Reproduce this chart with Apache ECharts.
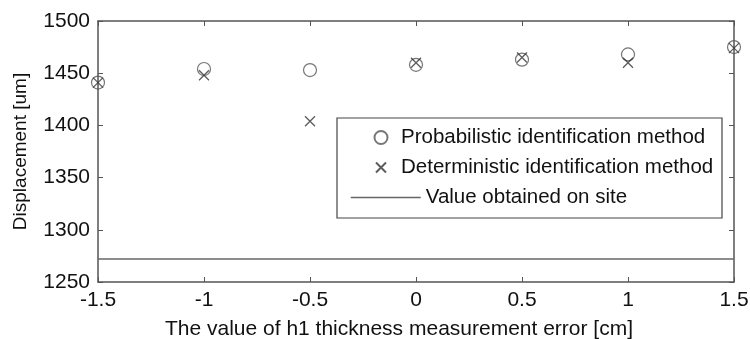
<!DOCTYPE html>
<html>
<head>
<meta charset="utf-8">
<script src="https://cdn.jsdelivr.net/npm/echarts@6/dist/echarts.min.js"></script>
<style>html,body{margin:0;padding:0;background:#fff;}#c{width:750px;height:339px;}</style>
</head>
<body>
<div id="c"></div>
<script>
const xValues = [-1.5, -1, -0.5, 0, 0.5, 1, 1.5];
const probabilistic = [1441, 1454, 1453, 1458, 1463, 1468, 1475];
const deterministic = [1441, 1448, 1404, 1460, 1465, 1460, 1474];
const siteValue = 1272;
const seriesNames = ['Probabilistic identification method', 'Deterministic identification method', 'Value obtained on site'];

const FONT = 'Liberation Sans';
const AX = '#555';
const crossPath = 'path://M0,0L10,10M10,0L0,10';
const crossLegendPath = 'path://M-1.5,-1.5L-1.5,-1.5M11.5,11.5L11.5,11.5M0,0L10,10M10,0L0,10';

const chart = echarts.init(document.getElementById('c'));
const commonAxis = {
  axisLine: {show: true, onZero: false, lineStyle: {color: AX, width: 1.5}},
  axisTick: {show: true, inside: true, length: 5, lineStyle: {color: AX, width: 1}},
  splitLine: {show: false}
};
const legendText = {color: '#111', fontFamily: FONT, fontSize: 20.5};
chart.setOption({
  animation: false,
  backgroundColor: '#fff',
  grid: {left: 98, right: 16, top: 21, bottom: 57, containLabel: false, outerBoundsMode: 'none'},
  xAxis: [
    Object.assign({}, commonAxis, {
      type: 'value', min: -1.5, max: 1.5, interval: 0.5, position: 'bottom',
      axisLabel: {color: '#111', fontFamily: FONT, fontSize: 21, margin: 8,
        formatter: v => String(v)},
      name: 'The value of h1 thickness measurement error [cm]',
      nameLocation: 'middle', nameGap: 37,
      nameTextStyle: {color: '#111', fontFamily: FONT, fontSize: 21, padding: [0, 34, 0, 0]}
    }),
    Object.assign({}, commonAxis, {
      type: 'value', min: -1.5, max: 1.5, interval: 0.5, position: 'top',
      axisLabel: {show: false}
    })
  ],
  yAxis: [
    Object.assign({}, commonAxis, {
      type: 'value', min: 1250, max: 1500, interval: 50, position: 'left',
      axisLabel: {color: '#111', fontFamily: FONT, fontSize: 21, margin: 8,
        formatter: v => String(v)},
      name: 'Displacement [um]', nameLocation: 'middle', nameGap: 68,
      nameTextStyle: {color: '#111', fontFamily: FONT, fontSize: 19}
    }),
    Object.assign({}, commonAxis, {
      type: 'value', min: 1250, max: 1500, interval: 50, position: 'right',
      axisLabel: {show: false}
    })
  ],
  graphic: [{
    type: 'rect', z: 10,
    shape: {x: 337, y: 118, width: 385, height: 100},
    style: {fill: '#fff', stroke: '#444', lineWidth: 1.2}
  }],
  legend: [
    {
      orient: 'vertical', left: 372, top: 127, padding: 0, z: 20,
      itemGap: 9, itemWidth: 30, itemHeight: 13,
      textStyle: legendText,
      data: [
        {name: seriesNames[0], icon: 'circle'},
        {name: seriesNames[1], icon: crossLegendPath}
      ]
    },
    {
      orient: 'vertical', left: 350, top: 187, padding: 0, z: 20,
      itemWidth: 70, itemHeight: 13,
      textStyle: legendText,
      data: [
        {name: seriesNames[2], icon: 'line',
         itemStyle: {color: '#666', borderColor: '#666', borderWidth: 1.5}}
      ]
    }
  ],
  series: [
    {
      name: seriesNames[0], type: 'scatter',
      symbol: 'circle', symbolSize: 13,
      itemStyle: {color: 'none', borderColor: '#555', borderWidth: 1.2},
      data: xValues.map((x, i) => [x, probabilistic[i]]),
      z: 5
    },
    {
      name: seriesNames[1], type: 'scatter',
      symbol: crossPath, symbolSize: 10,
      itemStyle: {color: 'none', borderColor: '#333', borderWidth: 1.3},
      data: xValues.map((x, i) => [x, deterministic[i]]),
      z: 6
    },
    {
      name: seriesNames[2], type: 'line',
      symbol: 'none',
      lineStyle: {color: '#666', width: 1.5},
      itemStyle: {color: '#666'},
      data: [[-1.5, siteValue], [1.5, siteValue]],
      z: 3
    }
  ]
});
</script>
</body>
</html>
